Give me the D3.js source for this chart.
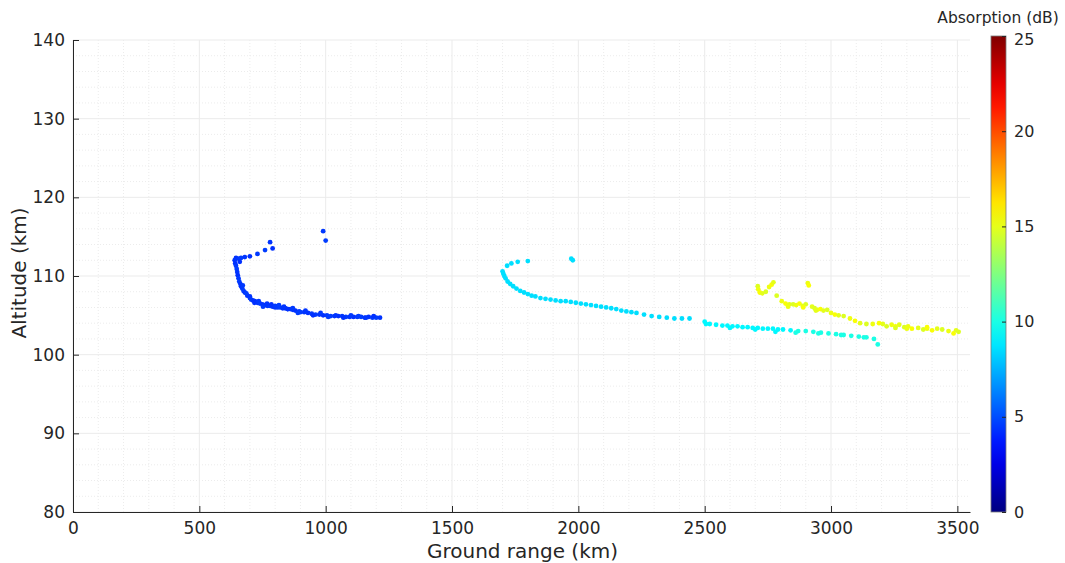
<!DOCTYPE html>
<html><head><meta charset="utf-8">
<script src="https://cdn.jsdelivr.net/npm/d3@7"></script>
<style>body{margin:0;background:#fff}svg{display:block}text{font-family:"DejaVu Sans",sans-serif;fill:#262626}</style>
</head><body>
<svg id="c" width="1065" height="563"></svg>
<script>
// Data: ground range (km), altitude (km), absorption (dB)
const blueRange = [645,655,665,680,700,730,760,780,790,990,1000,
 640,642,645,648,650,652,655,658,662,665,670,675,680,690,700,705,712,720,730,740,750,760,770,780,790,800,810,820,830,840,850,860,870,880,895,900,915,930,945,960,975,990,1005,1020,1035,1050,1065,1080,1095,1110,1125,1140,1155,1170,1185,1200,1215,
 660,672,686,700,718,735,752,768,785,800,815,835,850,870,890,920,950,980,1010,1040,1070,1100,1130,1160,1190];
const blueAlt = [112.3,112.2,112.3,112.4,112.5,112.8,113.3,114.3,113.5,115.7,114.5,
 112.0,111.6,111.3,110.9,110.5,110.1,109.7,109.3,109.0,108.7,108.4,108.1,107.9,107.5,107.2,107.0,106.9,106.8,106.6,106.5,106.4,106.3,106.2,106.2,106.1,106.0,106.0,106.0,105.9,105.9,105.8,105.8,105.7,105.6,105.5,105.4,105.4,105.3,105.2,105.1,105.1,105.0,105.0,104.9,104.9,104.9,104.9,104.8,104.8,104.8,104.8,104.8,104.7,104.8,104.7,104.7,104.7,
 111.8,108.8,107.8,107.4,106.6,106.8,106.1,106.5,106.4,106.2,106.3,106.1,105.8,105.9,105.3,105.6,105.0,105.3,104.8,105.0,104.7,105.0,104.9,104.7,104.9];
const blueAbs = blueRange.map((d,i)=>[4.3,4.5,4.6,4.4][i%4]);

const cyanRange = [1700,1703,1707,1712,1720,1730,1742,1755,1770,1785,1800,1815,1830,1850,1870,1890,1910,1930,1950,1970,1990,2010,2030,2050,2070,2090,2110,2130,2150,2170,2190,2210,2230,2260,2290,2320,2350,2380,2410,2440,2500,2520,2545,2570,2590,2610,2630,2650,2670,2690,2710,2730,2750,2770,2790,2810,2840,2870,2900,2930,2960,2990,3020,3050,3080,3110,3140,3170,3185,
 1718,1735,1760,1800,1972,1978,2505,2600,2700,2780,2860,2950,3040,3130];
const cyanAlt = [110.6,110.3,110.0,109.7,109.3,109.0,108.7,108.4,108.1,107.9,107.7,107.5,107.4,107.2,107.1,107.0,106.9,106.8,106.8,106.7,106.6,106.5,106.4,106.3,106.2,106.1,106.0,105.9,105.8,105.6,105.5,105.4,105.3,105.1,104.9,104.8,104.7,104.6,104.6,104.6,104.2,103.9,103.8,103.7,103.7,103.6,103.6,103.5,103.5,103.4,103.4,103.3,103.3,103.3,103.2,103.2,103.1,103.0,103.0,102.9,102.8,102.7,102.6,102.5,102.4,102.3,102.2,102.0,101.3,
 111.3,111.6,111.8,111.9,112.2,112.0,103.9,103.4,103.2,102.9,102.8,102.7,102.5,102.2];
const cyanAbs = cyanRange.map(r => r < 2500 ? 8.6 : r < 2850 ? 9.2 : 10.0);

const yellowRange = [2710,2712,2718,2728,2742,2755,2765,2772,2785,2805,2820,2835,2850,2862,2875,2888,2900,2908,2912,2925,2935,2945,2958,2970,2985,3000,3015,3030,3050,3075,3095,3115,3140,3165,3190,3205,3220,3240,3255,3270,3290,3305,3320,3345,3365,3380,3400,3420,3440,3465,3485,3495,3505,
 2830,2890,2940,3255,3300,3380];
const yellowAlt = [108.7,108.3,107.9,107.8,108.0,108.6,108.9,109.2,107.5,106.8,106.5,106.4,106.4,106.3,106.5,106.2,106.4,109.1,108.8,106.1,105.9,105.7,105.8,105.6,105.7,105.3,105.1,105.0,104.9,104.6,104.3,104.0,103.9,103.9,104.0,103.9,103.6,103.8,103.6,103.8,103.5,103.6,103.3,103.4,103.2,103.3,103.1,103.3,103.2,103.0,102.7,103.1,102.9,
 106.1,106.0,105.6,103.4,103.3,103.5];
const yellowAbs = yellowRange.map((d,i)=>[14.8,15.2,15.5,15.0][i%4]);

const xTicks = [0,500,1000,1500,2000,2500,3000,3500];
const yTicks = [80,90,100,110,120,130,140];
const cTicks = [0,5,10,15,20,25];

const svg = d3.select("#c");
const L=73,R=970,T=40,B=512;
const x = d3.scaleLinear().domain([0,3550]).range([L,R]);
const y = d3.scaleLinear().domain([80,140]).range([B,T]);

// jet colormap
function jet(t){
  t=Math.max(0,Math.min(1,t));
  const r=Math.max(0,Math.min(1,Math.min(4*t-1.5,-4*t+4.5)));
  const g=Math.max(0,Math.min(1,Math.min(4*t-0.5,-4*t+3.5)));
  const b=Math.max(0,Math.min(1,Math.min(4*t+0.5,-4*t+2.5)));
  return d3.rgb(r*255,g*255,b*255).toString();
}
const cScale = d3.scaleLinear().domain([0,25]).range([0,1]);

// minor grid
const g = svg.append("g");
const xMinor = d3.range(0,3551,100).filter(v=>v%500!==0);
const yMinor = d3.range(80,141,2).filter(v=>v%10!==0);
g.selectAll(".xm").data(xMinor).join("line").attr("x1",d=>x(d)).attr("x2",d=>x(d)).attr("y1",T).attr("y2",B)
 .attr("stroke","#ececec").attr("stroke-dasharray","1,2");
g.selectAll(".ym").data(yMinor).join("line").attr("y1",d=>y(d)).attr("y2",d=>y(d)).attr("x1",L).attr("x2",R)
 .attr("stroke","#ececec").attr("stroke-dasharray","1,2");
// major grid
g.selectAll(".xg").data(xTicks).join("line").attr("x1",d=>x(d)).attr("x2",d=>x(d)).attr("y1",T).attr("y2",B).attr("stroke","#ebebeb");
g.selectAll(".yg").data(yTicks).join("line").attr("y1",d=>y(d)).attr("y2",d=>y(d)).attr("x1",L).attr("x2",R).attr("stroke","#ebebeb");

// points
function pts(rs,as,cs){
  svg.append("g").selectAll("circle").data(rs.map((r,i)=>({r,a:as[i],c:cs[i]}))).join("circle")
   .attr("cx",d=>x(d.r)).attr("cy",d=>y(d.a)).attr("r",2.4).attr("fill",d=>jet(cScale(d.c)));
}
pts(blueRange,blueAlt,blueAbs);
pts(cyanRange,cyanAlt,cyanAbs);
pts(yellowRange,yellowAlt,yellowAbs);

// axes
const xa = svg.append("g").attr("transform",`translate(0,${B})`)
 .call(d3.axisBottom(x).tickValues(xTicks).tickFormat(d3.format("d")).tickSizeInner(-6).tickSizeOuter(0).tickPadding(10));
const ya = svg.append("g").attr("transform",`translate(${L},0)`)
 .call(d3.axisLeft(y).tickValues(yTicks).tickFormat(d3.format("d")).tickSizeInner(-6).tickSizeOuter(0).tickPadding(8));
[xa,ya].forEach(a=>{
  a.select(".domain").attr("stroke","#262626");
  a.selectAll(".tick line").attr("stroke","#262626");
  a.selectAll(".tick text").attr("font-size",17).attr("font-family","DejaVu Sans").attr("fill","#262626");
});
svg.append("text").attr("x",(L+R)/2+1).attr("y",558).attr("text-anchor","middle").attr("font-size",20).text("Ground range (km)");
svg.append("text").attr("transform",`translate(26,${(T+B)/2-3}) rotate(-90)`).attr("text-anchor","middle").attr("font-size",20).text("Altitude (km)");

// colorbar
const cbX=991,cbW=15,cbT=36,cbB=512;
const defs = svg.append("defs");
const grad = defs.append("linearGradient").attr("id","jet").attr("x1",0).attr("y1",1).attr("x2",0).attr("y2",0);
d3.range(0,1.0001,0.05).forEach(t=>grad.append("stop").attr("offset",t).attr("stop-color",jet(t)));
svg.append("rect").attr("x",cbX).attr("y",cbT).attr("width",cbW).attr("height",cbB-cbT).attr("fill","url(#jet)").attr("stroke","#7a7a7a").attr("stroke-width",0.8);
const cy = d3.scaleLinear().domain([0,25]).range([cbB,cbT]);
const ca = svg.append("g").attr("transform",`translate(${cbX+cbW},0)`)
 .call(d3.axisRight(cy).tickValues(cTicks).tickSizeInner(-4).tickSizeOuter(0).tickPadding(8));
ca.select(".domain").remove();
ca.selectAll(".tick line").attr("stroke","#262626");
ca.selectAll(".tick text").attr("font-size",16).attr("font-family","DejaVu Sans").attr("fill","#262626");
ca.selectAll(".tick").filter(d=>d===25).select("text").attr("dy","0.5em");
svg.append("text").attr("x",998).attr("y",23).attr("text-anchor","middle").attr("font-size",15.5).text("Absorption (dB)");
</script>
</body></html>
